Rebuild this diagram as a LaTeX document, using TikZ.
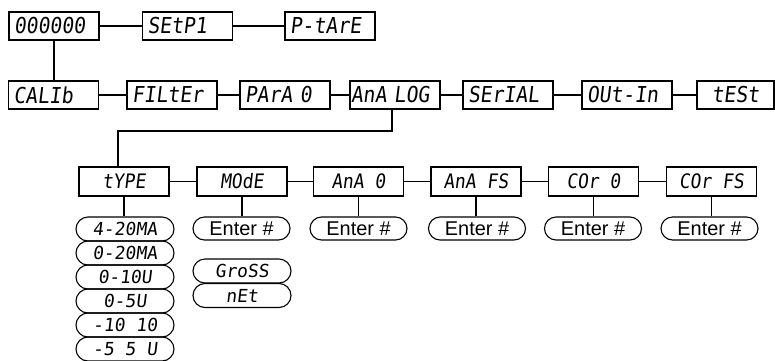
\documentclass[tikz,border=0pt]{standalone}
\usepackage{fontspec}
\setmainfont{Liberation Sans}
\newfontfamily\seg[FakeSlant=0.12,FakeStretch=0.9]{DejaVu Sans Mono}
\newfontfamily\segw[FakeSlant=0.12]{DejaVu Sans Mono}
\usetikzlibrary{shapes.misc}
\begin{document}
\begin{tikzpicture}[x=1bp,y=-1bp,
  line width=1.1bp,
  box/.style={draw, rectangle, minimum height=28bp, minimum width=90bp, inner ysep=0pt, inner xsep=5bp, font=\seg\fontsize{22}{22}\selectfont},
  lbox/.style={box, text width=80bp, align=left},
  cbox/.style={box, minimum height=29bp, font=\seg\fontsize{20}{20}\selectfont},
  pill/.style={draw, rounded rectangle, minimum width=97bp, minimum height=23bp, inner sep=0pt, font=\fontsize{20}{20}\selectfont},
  opt/.style={pill, minimum width=98bp, minimum height=24bp, font=\segw\fontsize{18}{18}\selectfont}
]
\useasboundingbox (0,0) rectangle (775,360);
% row 1
\node[lbox] (n0) at (54,26) {000000};
\node[lbox] (n1) at (187.5,26) {SEtP1};
\node[lbox] (n2) at (330,26) {P-tArE};
% row 2
\node[lbox] (cal) at (53.5,95) {CALIb};
\node[lbox] (fil) at (172,95) {FILtEr};
\node[lbox] (par) at (285,95) {PArA 0};
\node[lbox, inner xsep=1bp, text width=88bp] (ana) at (395,95) {AnA LOG};
\node[lbox] (ser) at (508,95) {SErIAL};
\node[lbox] (out) at (627,95) {OUt-In};
\node[box, minimum width=77bp] (tst) at (735.5,95) {tESt};
% row 3
\node[cbox] (typ) at (124,181.5) {tYPE};
\node[cbox] (mod) at (242,181.5) {MOdE};
\node[cbox] (az) at (358.5,181.5) {AnA 0};
\node[cbox] (afs) at (476,181.5) {AnA FS};
\node[cbox] (cz) at (593.5,181.5) {COr 0};
\node[cbox] (cfs) at (711.5,181.5) {COr FS};
% enter pills
\node[pill] (e1) at (241.5,228.5) {Enter \#};
\node[pill] (e2) at (358.5,228.5) {Enter \#};
\node[pill] (e3) at (477,228.5) {Enter \#};
\node[pill] (e4) at (593,228.5) {Enter \#};
\node[pill] (e5) at (709.5,228.5) {Enter \#};
% type options
\node[opt] (o1) at (125,229) {4-20MA};
\node[opt] (o2) at (125,253) {0-20MA};
\node[opt] (o3) at (125,277) {0-10U};
\node[opt] (o4) at (125,301) {0-5U};
\node[opt] (o5) at (125,325) {-10 10};
\node[opt] (o6) at (125,349) {-5 5 U};
% mode options
\node[opt] (g1) at (242,271) {GroSS};
\node[opt] (g2) at (242,295.5) {nEt};
% connectors
\draw (n0) -- (n1);
\draw (n1) -- (n2);
\draw (n0.south) -- (n0.south |- cal.north);
\draw (cal) -- (fil);
\draw (fil) -- (par);
\draw (par) -- (ana);
\draw (ana) -- (ser);
\draw (ser) -- (out);
\draw (out.east) -- (out.east -| tst.west);
\coordinate (j1) at (392,131);
\coordinate (j2) at (118,131);
\draw (ana.south -| j1) -- (j1) -- (j2) -- (j2 |- typ.north);
\draw (typ) -- (mod);
\draw (mod) -- (az);
\draw (az) -- (afs);
\draw (afs) -- (cz);
\draw (cz) -- (cfs);
\draw (typ.south) -- (typ.south |- o1.north);
\draw (mod.south) -- (mod.south |- e1.north);
\draw (az.south) -- (az.south |- e2.north);
\draw (afs.south) -- (afs.south |- e3.north);
\draw (cz.south) -- (cz.south |- e4.north);
\draw (cfs.south) -- (cfs.south |- e5.north);
\end{tikzpicture}
\end{document}
